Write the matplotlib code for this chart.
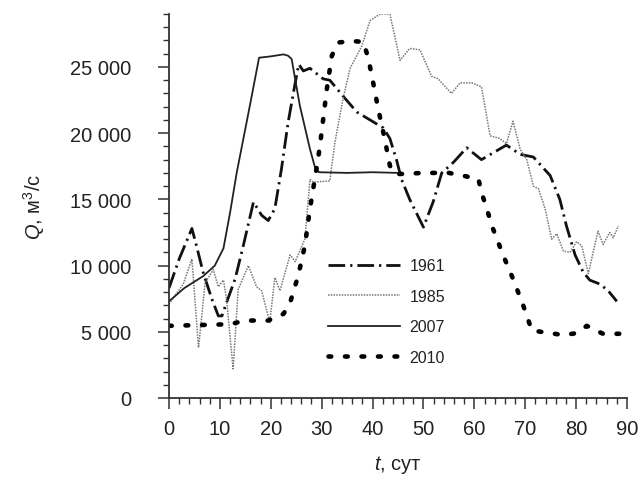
import numpy as np
import matplotlib
matplotlib.use("Agg")
import matplotlib.pyplot as plt
from matplotlib.ticker import MultipleLocator, FuncFormatter

# =====================================================
# DATA
# =====================================================

t_1961 = [0, 2, 4.5, 5.4, 6.7, 8.4, 9.7, 10.4, 11.3, 13, 14.6, 16.6, 18.2, 19.5,
          20.8, 22.1, 23.4, 24.8, 25.5, 26.4, 27.7, 30.3, 31.6, 34.2, 36.9, 40.8,
          42.1, 43.4, 44.7, 45.7, 47.3, 50, 51.9, 53.6, 55.9, 58.5, 61.4, 66.3,
          69, 71.6, 74.9, 76.8, 78.1, 79.8, 81.4, 82.7, 84.7, 86.3, 88]
Q_1961 = [8300, 10500, 12800, 11500, 9500, 7500, 6200, 6200, 7200, 9000, 11500,
          14800, 13800, 13400, 14300, 17300, 20800, 23800, 25200, 24700, 24900,
          24100, 24000, 22800, 21600, 20700, 20400, 19600, 18000, 16500, 15000,
          12900, 14800, 17000, 17800, 18900, 18000, 19100, 18400, 18200, 16800,
          15000, 13000, 10800, 9500, 8900, 8600, 8100, 7300]

t_1985 = [0, 2.8, 4.5, 5.8, 7.1, 8.7, 9.7, 10.7, 11.3, 12.6, 13.6, 15.6, 17.2,
          18.2, 19.8, 20.8, 21.8, 23.8, 24.8, 26.7, 27.7, 28.4, 31.6, 32.6, 34.2,
          35.6, 37.9, 39.5, 41.5, 43.4, 45.4, 47.3, 49.3, 51.6, 52.9, 55.5, 57.2,
          59.5, 61.4, 63.1, 65, 66.3, 67.6, 69, 70.3, 71.6, 72.6, 73.9, 75.2,
          76.2, 77.5, 78.8, 80.1, 81.1, 82.4, 84.3, 85.3, 86.6, 87.3, 88.3]
Q_1985 = [7100, 8600, 10500, 3800, 8700, 9700, 8400, 8900, 7500, 2200, 8200,
          10000, 8400, 8100, 5700, 9100, 8100, 10800, 10300, 12000, 16500, 16300,
          16400, 19300, 22600, 24900, 26600, 28500, 29000, 29000, 25500, 26400,
          26300, 24300, 24100, 23000, 23800, 23800, 23500, 19800, 19600, 19200,
          20900, 18800, 18000, 16000, 15800, 14300, 12000, 12400, 11100, 11000,
          11800, 11500, 9400, 12600, 11600, 12500, 12100, 13000]

t_2007 = [0, 3, 6.7, 9, 10.7, 12, 13.3, 15.9, 17.7, 20, 22.5, 23.4, 24.1, 25.7,
          27.7, 28.7, 29.5, 35, 40, 45]
Q_2007 = [7300, 8300, 9200, 10000, 11300, 14000, 17000, 22100, 25700, 25800,
          25950, 25850, 25600, 22100, 18800, 17400, 17050, 17000, 17050, 17000]

t_2010 = [0, 5, 10, 12.3, 14.9, 19.5, 22.5, 23.8, 25.4, 26.7, 27.7, 29.3, 30, 31,
          32, 33.3, 36, 38.2, 39.2, 40.1, 41.1, 42.4, 43.4, 44.4, 50, 55, 60.8,
          61.4, 63.7, 65.7, 67.6, 69.6, 71.3, 74, 77.5, 80.1, 82.1, 83.4, 85.3, 88.6]
Q_2010 = [5450, 5500, 5550, 5600, 5850, 5850, 6350, 7200, 9250, 11500, 14300,
          18050, 20100, 23300, 25850, 26850, 26950, 26900, 25600, 23850, 21850,
          19550, 17550, 16900, 17000, 17000, 16550, 15550, 12750, 10750, 9000,
          7000, 5100, 4950, 4750, 4900, 5450, 5200, 4850, 4850]

x_ticks = [0, 10, 20, 30, 40, 50, 60, 70, 80, 90]
y_ticks = [0, 5000, 10000, 15000, 20000, 25000]

# =====================================================
# STYLE
# =====================================================

plt.rcParams["font.family"] = ["Liberation Sans", "DejaVu Sans"]
plt.rcParams["mathtext.fontset"] = "custom"
plt.rcParams["mathtext.rm"] = "Liberation Sans"
plt.rcParams["mathtext.it"] = "Liberation Sans:italic"

TEXT = "#222222"
AXC = "#333333"

fig = plt.figure(figsize=(6.38, 4.81), dpi=100)
ax = fig.add_axes([169 / 638, 82 / 481, 458 / 638, 384 / 481])

ax.plot(t_1961, Q_1961, color="#111111", lw=2.0,
        linestyle=(0, (6, 1.8, 0.8, 1.8)), label="1961")
ax.plot(t_1985, Q_1985, color="#777777", lw=1.1,
        linestyle=(0, (1, 0.8)), label="1985")
ax.plot(t_2007, Q_2007, color="#222222", lw=1.3, label="2007")
ax.plot(t_2010, Q_2010, color="#000000", lw=3.3,
        linestyle=(0, (0.6, 3.0)), dash_capstyle="round", label="2010")

ax.set_xlim(0, 90)
ax.set_ylim(0, 29000)

for s in ["top", "right"]:
    ax.spines[s].set_visible(False)
for s in ["left", "bottom"]:
    ax.spines[s].set_color(AXC)
    ax.spines[s].set_linewidth(1.3)

ax.set_xticks(x_ticks)
ax.set_yticks(y_ticks)
ax.xaxis.set_minor_locator(MultipleLocator(2))
ax.yaxis.set_minor_locator(MultipleLocator(1000))
ax.yaxis.set_major_formatter(FuncFormatter(lambda v, p: f"{int(v):,}".replace(",", " ")))

ax.tick_params(which="major", direction="out", length=8, width=1.1, color=AXC,
               labelsize=14.5, labelcolor=TEXT)
ax.tick_params(which="minor", direction="out", length=4, width=1.0, color=AXC)
ax.tick_params(axis="y", which="major", pad=19)
ax.tick_params(axis="x", which="major", pad=7)

ax.set_xlabel("$\\mathit{t}$, сут", fontsize=14.5, color=TEXT, labelpad=11)
ax.set_ylabel("$\\mathit{Q}$, м$^3$/с", fontsize=14.5, color=TEXT, labelpad=17)

ax.legend(loc="upper left", bbox_to_anchor=(0.347, 0.364), frameon=False,
          fontsize=11.5, handlelength=4.5, handletextpad=0.6, labelspacing=0.97,
          borderpad=0, borderaxespad=0, labelcolor=TEXT)

plt.savefig("out.png", dpi=100)
